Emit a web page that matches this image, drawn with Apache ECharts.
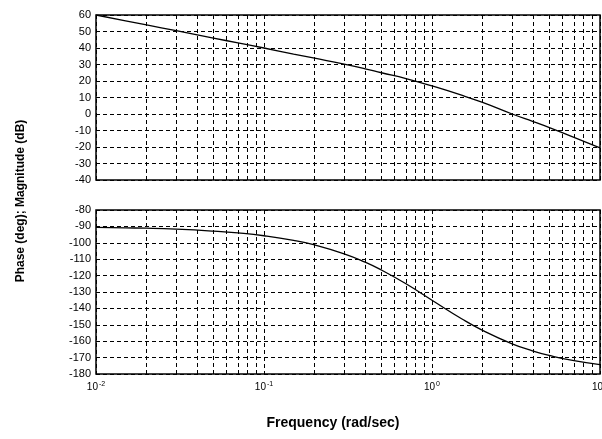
<!DOCTYPE html>
<html>
<head>
<meta charset="utf-8">
<script src="https://cdn.jsdelivr.net/npm/echarts@6/dist/echarts.min.js"></script>
<style>
  html, body { margin: 0; padding: 0; background: #fff; }
  #chart { width: 602px; height: 439px; }
</style>
</head>
<body>
<div id="chart"></div>
<script>
// Bode plot: magnitude (dB) on top, phase (deg) below
const freq = [0.01, 0.015, 0.02, 0.03, 0.05, 0.07, 0.1, 0.15, 0.2, 0.3, 0.4, 0.5, 0.7, 1, 1.5, 2, 3, 4, 5, 7, 10]
const magnitude = [60, 56.5, 54, 50.5, 46, 43.1, 40, 36.3, 33.8, 30.2, 27.4, 25, 21.5, 17, 11.4, 7, 0, -4.6, -8.2, -14.2, -20.5]
const phase = [-90.6, -90.9, -91.1, -91.7, -92.9, -94, -95.7, -98.5, -101.3, -106.7, -111.8, -116.6, -125, -135, -146.3, -153.4, -161.6, -166, -168.7, -171.9, -174.3]

const decades = [0.01, 0.1, 1]
const minorSteps = [2, 3, 4, 5, 6, 7, 8, 9]

const font = 'Liberation Sans, Arial, Helvetica, sans-serif'
const dash = [4, 3]

// minor log grid lines (2..9 within each decade)
const minorLines = []
decades.forEach((d) => minorSteps.forEach((k) => minorLines.push({ xAxis: d * k })))

const chart = echarts.init(document.getElementById('chart'), null, { renderer: 'canvas' })

const xAxisBase = (gridIndex, showLabels) => ({
  type: 'log',
  logBase: 10,
  gridIndex,
  min: 0.01,
  max: 10,
  axisLine: { show: false },
  axisTick: { show: false },
  splitLine: { show: true, lineStyle: { color: '#000', width: 1, type: dash } },
  axisLabel: {
    show: showLabels,
    margin: 7,
    color: '#000',
    fontFamily: font,
    fontSize: 10,
    formatter: (v) => '10{sup|' + Math.round(Math.log10(v)) + '}',
    rich: {
      sup: { fontSize: 7, fontFamily: font, color: '#000', verticalAlign: 'top', padding: [0, 0, 6, 1] },
    },
  },
})

const yAxisBase = (gridIndex, min, max) => ({
  type: 'value',
  gridIndex,
  min,
  max,
  interval: 10,
  axisLine: { show: false },
  axisTick: { show: false },
  splitLine: { show: true, lineStyle: { color: '#000', width: 1, type: dash } },
  axisLabel: { color: '#000', fontFamily: font, fontSize: 11, margin: 5 },
})

const gridLineMark = {
  silent: true,
  symbol: 'none',
  label: { show: false },
  lineStyle: { color: '#000', width: 1, type: dash },
  data: minorLines,
}

const gridBase = {
  left: 96,
  right: 2,
  show: true,
  borderColor: '#000',
  borderWidth: 1.5,
  backgroundColor: 'transparent',
  containLabel: false,
  outerBoundsMode: 'none',
}

const option = {
  animation: false,
  backgroundColor: '#fff',
  grid: [
    Object.assign({}, gridBase, { top: 15, height: 165 }),
    Object.assign({}, gridBase, { top: 210, height: 164 }),
  ],
  xAxis: [xAxisBase(0, false), xAxisBase(1, true)],
  yAxis: [yAxisBase(0, -40, 60), yAxisBase(1, -180, -80)],
  series: [
    {
      name: 'Magnitude',
      type: 'line',
      xAxisIndex: 0,
      yAxisIndex: 0,
      data: freq.map((f, i) => [f, magnitude[i]]),
      smooth: true,
      symbol: 'none',
      lineStyle: { color: '#000', width: 1.3 },
      markLine: gridLineMark,
    },
    {
      name: 'Phase',
      type: 'line',
      xAxisIndex: 1,
      yAxisIndex: 1,
      data: freq.map((f, i) => [f, phase[i]]),
      smooth: true,
      symbol: 'none',
      lineStyle: { color: '#000', width: 1.3 },
      markLine: gridLineMark,
    },
  ],
  graphic: [
    {
      type: 'text',
      x: 333,
      y: 423,
      style: {
        text: 'Frequency (rad/sec)',
        font: 'bold 14px ' + font,
        fill: '#000',
        align: 'center',
        verticalAlign: 'middle',
      },
    },
    {
      type: 'text',
      x: 21,
      y: 201,
      rotation: Math.PI / 2,
      style: {
        text: 'Phase (deg); Magnitude (dB)',
        font: 'bold 12px ' + font,
        fill: '#000',
        align: 'center',
        verticalAlign: 'middle',
      },
    },
  ],
}

chart.setOption(option)
</script>
</body>
</html>
